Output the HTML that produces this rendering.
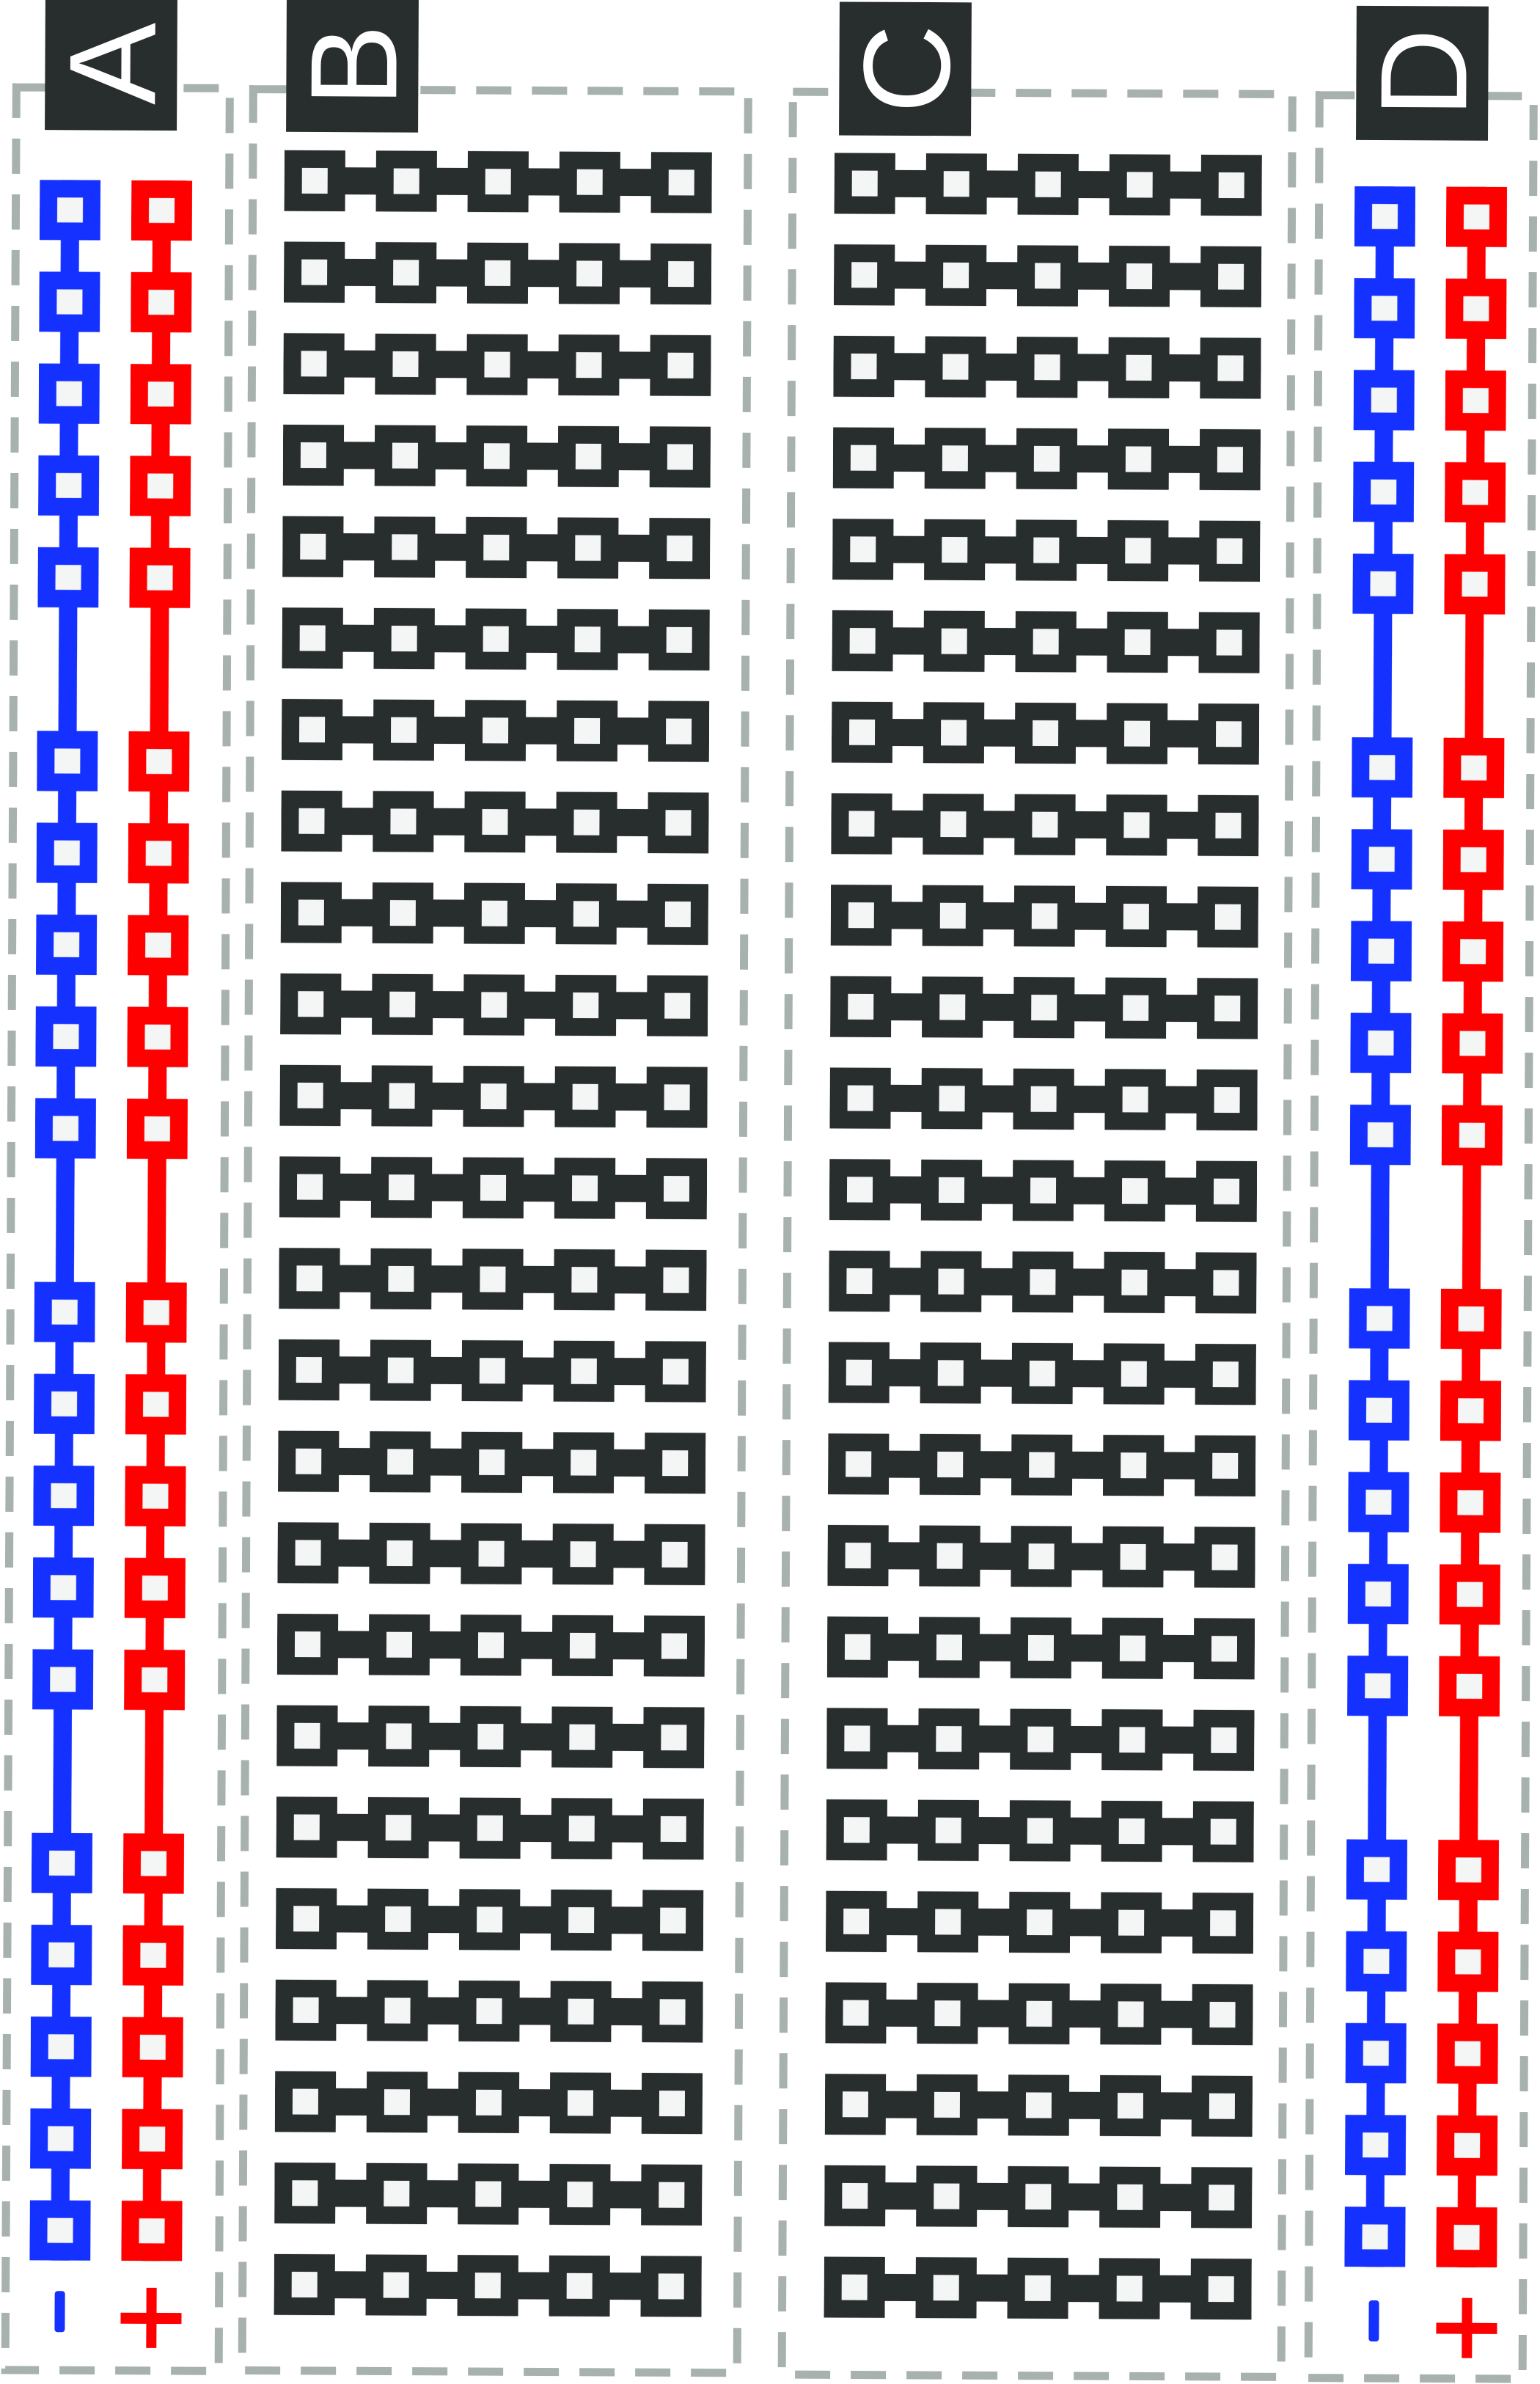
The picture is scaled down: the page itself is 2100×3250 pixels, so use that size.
<!DOCTYPE html>
<html><head><meta charset="utf-8"><style>
html,body{margin:0;padding:0;background:#fff;width:2100px;height:3250px;overflow:hidden}
svg{display:block}
</style></head><body>
<svg width="2100" height="3250" viewBox="0 0 2100 3250" xmlns="http://www.w3.org/2000/svg">
<defs>
<pattern id="strip" patternUnits="userSpaceOnUse" x="0" y="187.15" width="2100" height="124.7">
  <g fill="#282d2e">
    <rect x="0" y="43.85" width="583" height="37"/>
    <rect x="0" y="20.85" width="83" height="83"/>
    <rect x="125" y="20.85" width="83" height="83"/>
    <rect x="250" y="20.85" width="83" height="83"/>
    <rect x="375" y="20.85" width="83" height="83"/>
    <rect x="500" y="20.85" width="83" height="83"/>
  </g>
  <g fill="#f4f6f6">
    <rect x="24" y="44.85" width="35" height="35"/>
    <rect x="149" y="44.85" width="35" height="35"/>
    <rect x="274" y="44.85" width="35" height="35"/>
    <rect x="399" y="44.85" width="35" height="35"/>
    <rect x="524" y="44.85" width="35" height="35"/>
  </g>
</pattern>
<pattern id="railB" patternUnits="userSpaceOnUse" x="0" y="250" width="2100" height="751.2">
  <rect x="29" y="0" width="25" height="751.2" fill="#1531ff"/>
  <g fill="#1531ff">
    <rect x="0" y="0" width="83" height="82"/><rect x="0" y="125.2" width="83" height="82"/><rect x="0" y="250.4" width="83" height="82"/><rect x="0" y="375.6" width="83" height="82"/><rect x="0" y="500.8" width="83" height="82"/>
  </g>
  <g fill="#f4f6f6">
    <rect x="24" y="24" width="35" height="34"/><rect x="24" y="149.2" width="35" height="34"/><rect x="24" y="274.4" width="35" height="34"/><rect x="24" y="399.6" width="35" height="34"/><rect x="24" y="524.8" width="35" height="34"/>
  </g>
</pattern>
<pattern id="railR" patternUnits="userSpaceOnUse" x="0" y="250" width="2100" height="751.2">
  <rect x="29" y="0" width="25" height="751.2" fill="#ff0000"/>
  <g fill="#ff0000">
    <rect x="0" y="0" width="83" height="82"/><rect x="0" y="125.2" width="83" height="82"/><rect x="0" y="250.4" width="83" height="82"/><rect x="0" y="375.6" width="83" height="82"/><rect x="0" y="500.8" width="83" height="82"/>
  </g>
  <g fill="#f4f6f6">
    <rect x="24" y="24" width="35" height="34"/><rect x="24" y="149.2" width="35" height="34"/><rect x="24" y="274.4" width="35" height="34"/><rect x="24" y="399.6" width="35" height="34"/><rect x="24" y="524.8" width="35" height="34"/>
  </g>
</pattern>
</defs>
<g transform="rotate(0.28 1050 1625)">
  <!-- dashed boxes -->
  <g fill="none" stroke="#a7b1ae" stroke-width="11" stroke-dasharray="48 28">
    <rect x="15" y="124" width="291" height="3112"/>
    <rect x="338" y="125" width="675" height="3110"/>
    <rect x="1074" y="125" width="681" height="3112"/>
    <rect x="1792" y="126" width="292" height="3112"/>
  </g>
  <!-- strips -->
  <rect x="381" y="187.15" width="583" height="2992.8" fill="url(#strip)" transform="translate(381 0)" style="display:none"/>
  <g transform="translate(381 0)"><rect x="0" y="187.15" width="583" height="2992.8" fill="url(#strip)"/></g>
  <g transform="translate(1131 0)"><rect x="0" y="187.15" width="583" height="2992.8" fill="url(#strip)"/></g>
  <!-- rails -->
  <g transform="translate(47.5 0)"><rect x="0" y="250" width="83" height="2836.4" fill="url(#railB)"/></g>
  <g transform="translate(172.5 0)"><rect x="0" y="250" width="83" height="2836.4" fill="url(#railR)"/></g>
  <g transform="translate(1840.5 0)"><rect x="0" y="250" width="83" height="2836.4" fill="url(#railB)"/></g>
  <g transform="translate(1965.5 0)"><rect x="0" y="250" width="83" height="2836.4" fill="url(#railR)"/></g>
  <!-- signs -->
  <rect x="82" y="3128" width="14" height="56" rx="4" fill="#1531ff"/>
  <rect x="172" y="3157" width="83" height="15" fill="#ff0000"/>
  <rect x="207" y="3123" width="14" height="82" fill="#ff0000"/>
  <rect x="1874" y="3132" width="14" height="56" rx="4" fill="#1531ff"/>
  <rect x="1966" y="3162" width="83" height="15" fill="#ff0000"/>
  <rect x="2001" y="3128" width="14" height="82" fill="#ff0000"/>
  <!-- labels -->
  <g fill="#282d2e">
    <rect x="54" y="0" width="180" height="182"/>
    <rect x="383" y="0" width="180" height="183"/>
    <rect x="1137" y="2" width="180" height="182"/>
    <rect x="1842" y="4" width="180" height="183"/>
  </g>
  <g fill="#ffffff" font-family="Liberation Sans, sans-serif" font-size="168" text-anchor="middle">
    <text transform="translate(144 91) rotate(-90)" dy="60">A</text>
    <text transform="translate(473 92) rotate(-90)" dy="60">B</text>
    <text transform="translate(1227 93) rotate(-90)" dy="60">C</text>
    <text transform="translate(1932 95) rotate(-90)" dy="60">D</text>
  </g>
</g>
</svg>
</body></html>
